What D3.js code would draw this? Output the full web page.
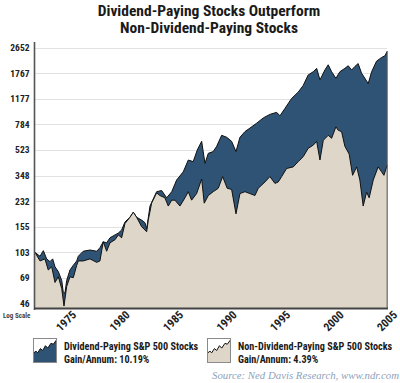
<!DOCTYPE html>
<html><head><meta charset="utf-8">
<script src="https://cdn.jsdelivr.net/npm/d3@7"></script>
<style>body{margin:0;background:#fff}svg{display:block}</style>
</head><body><svg id="c" width="400" height="383"></svg>
<script>
const titleLines = ["Dividend-Paying Stocks Outperform", "Non-Dividend-Paying Stocks"];
const yTickValues = [46, 69, 103, 155, 232, 348, 523, 784, 1177, 1767, 2652];
const xTickValues = [1975, 1980, 1985, 1990, 1995, 2000, 2005];
const seriesNames = ["Dividend-Paying S&P 500 Stocks", "Non-Dividend-Paying S&P 500 Stocks"];
const gainLabels = ["Gain/Annum: 10.19%", "Gain/Annum: 4.39%"];

const divYears = [1972.0,1972.47,1972.78,1973.09,1973.4,1973.65,1973.87,1974.18,1974.5,1974.64,1974.8,1974.96,1975.27,1975.58,1975.9,1976.05,1976.51,1977.14,1977.77,1978.07,1978.38,1978.7,1979.01,1979.48,1979.79,1980.1,1980.41,1980.88,1981.19,1981.5,1981.97,1982.28,1982.44,1982.75,1983.37,1983.84,1984.31,1984.78,1985.24,1985.86,1986.33,1986.79,1987.17,1987.58,1987.89,1988.2,1988.66,1988.98,1989.45,1989.92,1990.38,1990.79,1991.16,1991.63,1992.09,1992.72,1993.34,1993.96,1994.59,1994.9,1995.36,1995.99,1996.61,1997.07,1997.54,1998.01,1998.33,1998.64,1999.1,1999.41,1999.73,2000.13,2000.5,2000.97,2001.28,2001.6,2001.91,2002.21,2002.53,2002.84,2003.15,2003.47,2003.93,2004.4,2004.71,2004.92];
const divValues = [103,97,106,93,89,93,82,76,66,55,54,66,78,84,90,97,105,107,105,111,122,120,130,136,140,147,167,180,195,180,172,165,150,215,270,275,245,270,325,370,446,435,523,600,423,496,510,554,660,640,600,510,640,700,740,800,870,920,950,900,1010,1185,1310,1455,1720,1810,1910,1590,1860,2020,1810,1630,1810,1910,1990,1860,1970,2060,1767,1630,1500,1810,2140,2270,2330,2500];

const nonYears = [1972.0,1972.47,1972.93,1973.24,1973.56,1973.87,1974.18,1974.5,1974.71,1974.96,1975.27,1975.58,1975.9,1976.05,1976.51,1977.14,1977.77,1978.07,1978.38,1978.7,1979.01,1979.48,1979.79,1980.1,1980.41,1980.88,1981.19,1981.5,1981.97,1982.44,1982.59,1982.9,1983.37,1983.68,1984.14,1984.46,1984.78,1985.08,1985.55,1986.02,1986.33,1986.64,1987.11,1987.58,1987.82,1988.2,1988.66,1989.13,1989.54,1989.97,1990.38,1990.79,1991.16,1991.63,1992.09,1992.56,1992.87,1993.5,1993.96,1994.43,1994.74,1995.06,1995.52,1996.14,1996.61,1997.07,1997.54,1998.01,1998.33,1998.64,1998.95,1999.41,1999.73,2000.13,2000.35,2000.66,2000.97,2001.37,2001.69,2002.07,2002.37,2002.68,2003.0,2003.24,2003.62,2004.08,2004.4,2004.62,2004.92];
const nonValues = [103,90,93,78,82,64,70,58,44,60,70,69,84,90,90,93,88,90,122,105,120,126,136,130,163,180,195,180,155,143,172,225,265,254,245,215,236,236,215,245,270,236,262,330,225,254,270,285,343,285,280,190,262,270,262,254,285,315,343,308,315,343,390,400,435,470,537,565,600,446,610,660,630,755,715,700,554,490,350,400,325,215,268,245,325,400,370,350,410];

const NARROW = '"Liberation Sans Narrow","Arial Narrow","Roboto Condensed","Liberation Sans",Arial,sans-serif';
const svg = d3.select("#c");
const L = 35, R = 388, T = 42, B = 309;
const x = d3.scaleLinear().domain([1972, 2005]).range([L, R]);
const y = d3.scaleLog().domain([42, 2900]).range([B, T]);

// title
svg.append("g").selectAll("text").data(titleLines).join("text")
  .attr("x", 209).attr("y", (d, i) => 16 + i * 17)
  .attr("text-anchor", "middle")
  .style("font-family", NARROW).style("font-weight", "bold").style("font-size", "15.5px")
  .attr("fill", "#1a1a1a").text(d => d);

// grid
svg.append("g").selectAll("line").data(yTickValues).join("line")
  .attr("x1", L).attr("x2", R - 1)
  .attr("y1", d => Math.round(y(d)) + 0.5).attr("y2", d => Math.round(y(d)) + 0.5)
  .attr("stroke", "#e2e2e2").attr("stroke-width", 1);

svg.append("clipPath").attr("id", "clip").append("rect")
  .attr("x", L).attr("y", T).attr("width", R - L).attr("height", B - T);

const divData = divYears.map((t, i) => [t, divValues[i]]);
const nonData = nonYears.map((t, i) => [t, nonValues[i]]);
const area = d3.area().x(d => x(d[0])).y0(B).y1(d => y(d[1]));
const line = d3.line().x(d => x(d[0])).y(d => y(d[1]));

const plot = svg.append("g").attr("clip-path", "url(#clip)");
plot.append("path").datum(divData).attr("d", area).attr("fill", "#2f5375");
plot.append("path").datum(divData).attr("d", line).attr("fill", "none")
  .attr("stroke", "#111").attr("stroke-width", 1);
plot.append("path").datum(nonData).attr("d", area).attr("fill", "#ddd6c9");
plot.append("path").datum(nonData).attr("d", line).attr("fill", "none")
  .attr("stroke", "#111").attr("stroke-width", 1);
const lastX = x(divYears[divYears.length - 1]);
plot.append("line").attr("x1", lastX).attr("x2", lastX)
  .attr("y1", y(divValues[divValues.length - 1])).attr("y2", B)
  .attr("stroke", "#555").attr("stroke-width", 1);

// axes lines
svg.append("line").attr("x1", 34.5).attr("x2", 34.5).attr("y1", T).attr("y2", B + 1)
  .attr("stroke", "#555").attr("stroke-width", 1.6);
svg.append("line").attr("x1", 34).attr("x2", R).attr("y1", B - 0.5).attr("y2", B - 0.5)
  .attr("stroke", "#444").attr("stroke-width", 2);

// y tick labels
svg.append("g").selectAll("text").data(yTickValues).join("text")
  .attr("x", 29.5).attr("y", d => y(d)).attr("dy", "0.35em")
  .attr("text-anchor", "end")
  .style("font-family", NARROW).style("font-weight", "bold").style("font-size", "9.5px")
  .attr("fill", "#222").text(d => d);

svg.append("text").attr("x", 3).attr("y", 318)
  .style("font-family", NARROW).style("font-weight", "bold").style("font-size", "7px")
  .attr("fill", "#444").text("Log Scale");

// x tick labels
svg.append("g").selectAll("text").data(xTickValues).join("text")
  .attr("transform", d => `translate(${x(d) - 1},${321}) rotate(-45)`)
  .attr("text-anchor", "middle").attr("dy", "0.35em")
  .style("font-family", NARROW).style("font-weight", "bold").style("font-size", "11.5px")
  .attr("fill", "#222").text(d => d);

// legend
const iconPts = [[0,0.62],[0.1,0.52],[0.18,0.6],[0.3,0.42],[0.4,0.5],[0.52,0.3],[0.62,0.4],[0.76,0.2],[0.86,0.24],[1,0.06]];
const legendX = [33.5, 207.5];
const legendFill = ["#2f5375", "#ddd6c9"];
seriesNames.forEach((name, i) => {
  const g = svg.append("g").attr("transform", `translate(${legendX[i]},338.5)`);
  const w = 23, h = 24;
  g.append("rect").attr("width", w).attr("height", h).attr("fill", "#fff");
  const ia = d3.area().x(p => p[0] * w).y0(h).y1(p => p[1] * h);
  const il = d3.line().x(p => p[0] * w).y(p => p[1] * h);
  g.append("path").attr("d", ia(iconPts)).attr("fill", legendFill[i]);
  g.append("path").attr("d", il(iconPts)).attr("fill", "none").attr("stroke", "#111").attr("stroke-width", 1);
  g.append("rect").attr("width", w).attr("height", h).attr("fill", "none").attr("stroke", "#8a8a8a");
  const t = svg.append("text")
    .style("font-family", NARROW).style("font-weight", "bold").style("font-size", "10.2px")
    .attr("fill", "#1a1a1a");
  t.append("tspan").attr("x", legendX[i] + 30.5).attr("y", 350).text(name);
  t.append("tspan").attr("x", legendX[i] + 30.5).attr("y", 362.5).text(gainLabels[i]);
});

svg.append("text").attr("x", 399).attr("y", 379).attr("text-anchor", "end")
  .style("font-family", '"Liberation Serif","DejaVu Serif",serif').style("font-style", "italic")
  .style("font-size", "10.8px").attr("fill", "#8ea2bb")
  .text("Source: Ned Davis Research, www.ndr.com");
</script></body></html>
